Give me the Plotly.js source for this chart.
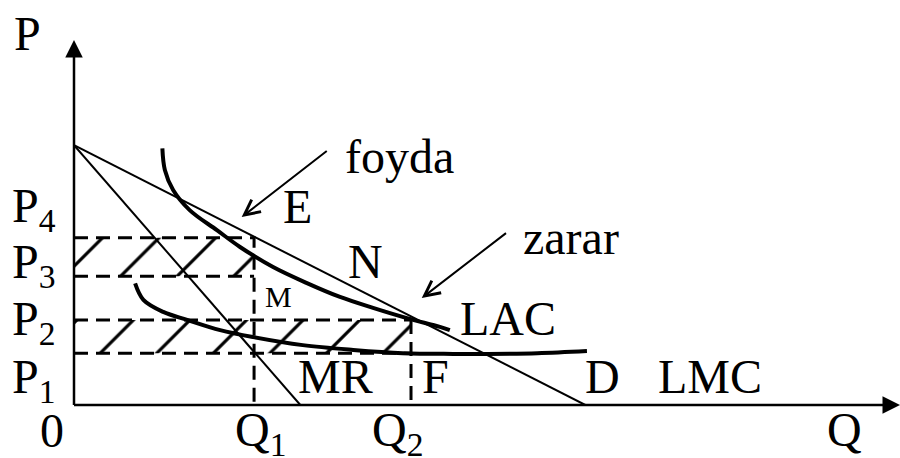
<!DOCTYPE html>
<html>
<head>
<meta charset="utf-8">
<script src="https://cdn.plot.ly/plotly-3.0.1.min.js"></script>
<style>
  html, body { margin: 0; padding: 0; background: #fff; }
  #chart { width: 900px; height: 458px; }
</style>
</head>
<body>
<div id="chart"></div>
<script>
// quantities and prices (Q 0..100, P 0..100)
var q1 = 21.8, q2 = 40.8;
var p1 = 14.2, p2 = 23.3, p3 = 35.3, p4 = 45.8;

// demand D and marginal revenue MR
var demandQ = [0, 61.9];
var demandP = [71.2, 0];
var mrQ = [0, 27.4];
var mrP = [71.2, 0];

// upper thick curve (LAC)
var lacQ = [10.7, 11.0, 12.0, 14.0, 17.3, 20.1, 24.1, 28.2, 32.2, 36.2, 40.3, 44.3, 45.5];
var lacP = [70.3, 64.4, 58.9, 53.4, 47.9, 43.3, 37.8, 33.4, 29.6, 26.6, 23.8, 21.4, 20.5];

// lower thick curve
var lmcQ = [7.4, 8.4, 10.8, 13.7, 17.7, 21.7, 27.7, 33.8, 39.8, 45.9, 50.0, 56.1, 62.1];
var lmcP = [33.3, 28.8, 25.5, 23.3, 20.5, 18.6, 16.4, 15.1, 14.2, 14.0, 14.0, 14.2, 14.8];

var serif = 'Liberation Serif, Times New Roman, serif';

function hatch(x0, x1, y0, y1) {
    return {
        x: [x0, x1, x1, x0, x0],
        y: [y0, y0, y1, y1, y0],
        mode: 'lines',
        line: { width: 0 },
        fill: 'toself',
        fillcolor: 'rgba(0,0,0,0)',
        fillpattern: { shape: '/', size: 40, solidity: 0.08, fgcolor: 'black' },
        hoverinfo: 'skip'
    };
}

function dashed(xs, ys) {
    return {
        x: xs, y: ys,
        mode: 'lines',
        line: { color: 'black', width: 3, dash: '14px,8px' },
        cliponaxis: false,
        hoverinfo: 'skip'
    };
}

function solid(xs, ys, w, smooth) {
    return {
        x: xs, y: ys,
        mode: 'lines',
        line: { color: 'black', width: w, shape: smooth ? 'spline' : 'linear' },
        cliponaxis: false,
        hoverinfo: 'skip'
    };
}

var traces = [
    hatch(0, q1, p3, p4),
    hatch(0, q2, p1, p2),
    dashed([0, q1, q1], [p4, p4, 0]),
    dashed([0, q1], [p3, p3]),
    dashed([0, q2], [p2, p2]),
    dashed([0, q2], [p1, p1]),
    dashed([q2, q2], [p2, 0]),
    solid(demandQ, demandP, 2, false),
    solid(mrQ, mrP, 2, false),
    solid(lacQ, lacP, 4, true),
    solid(lmcQ, lmcP, 4, true)
];

function label(text, x, y, opts) {
    var a = {
        text: text, x: x, y: y,
        xref: 'x', yref: 'y',
        xanchor: 'left', yanchor: 'middle',
        showarrow: false,
        font: { family: serif, size: 48, color: 'black' }
    };
    for (var k in opts) a[k] = opts[k];
    return a;
}

function arrow(tipX, tipY, tailX, tailY, opts) {
    var a = {
        text: '', x: tipX, y: tipY, ax: tailX, ay: tailY,
        xref: 'x', yref: 'y', axref: 'x', ayref: 'y',
        showarrow: true, arrowcolor: 'black',
        arrowhead: 5, arrowwidth: 2, arrowsize: 1.5,
        standoff: 0, borderpad: 0, borderwidth: 0
    };
    for (var k in opts) a[k] = opts[k];
    return a;
}

var annotations = [
    // axes
    arrow(0, 100, 0, 0, { arrowhead: 2, arrowwidth: 2.5, arrowsize: 1.4 }),
    arrow(100, 0, 0, 0, { arrowhead: 2, arrowwidth: 2.5, arrowsize: 1.4 }),
    // foyda / zarar pointers
    arrow(20.3, 51.5, 30.6, 69.6),
    arrow(42.1, 29.3, 52.3, 47.1),

    // axis names and ticks
    label('P', -0.0563, 1.019, { xref: 'paper', yref: 'paper', xanchor: 'center' }),
    label('P<sub>4</sub>', -0.0775, 53.7, { xref: 'paper' }),
    label('P<sub>3</sub>', -0.0775, 38.4, { xref: 'paper' }),
    label('P<sub>2</sub>', -0.0775, 22.7, { xref: 'paper' }),
    label('P<sub>1</sub>', -0.0775, 6.8, { xref: 'paper' }),
    label('0', -0.0266, -0.069, { xref: 'paper', yref: 'paper', xanchor: 'center' }),
    label('Q<sub>1</sub>', 19.2, -0.077, { yref: 'paper' }),
    label('Q<sub>2</sub>', 35.8, -0.077, { yref: 'paper' }),
    label('Q', 93.3, -0.068, { yref: 'paper', xanchor: 'center' }),

    // curve and point names
    label('foyda', 32.6, 68.2),
    label('E', 25.1, 54.5),
    label('N', 32.9, 39.2),
    label('zarar', 54.1, 46.0),
    label('M', 22.9, 29.6, { font: { family: serif, size: 30, color: 'black' } }),
    label('LAC', 46.5, 23.6),
    label('MR', 26.9, 7.7),
    label('F', 41.9, 7.7),
    label('D', 61.6, 7.7),
    label('LMC', 70.5, 7.7)
];

var layout = {
    width: 900,
    height: 458,
    margin: { l: 74, r: 0, t: 40, b: 53 },
    paper_bgcolor: 'white',
    plot_bgcolor: 'white',
    showlegend: false,
    xaxis: { range: [0, 100], visible: false, fixedrange: true },
    yaxis: { range: [0, 100], visible: false, fixedrange: true },
    annotations: annotations
};

Plotly.newPlot('chart', traces, layout, { displayModeBar: false, staticPlot: true });
</script>
</body>
</html>
